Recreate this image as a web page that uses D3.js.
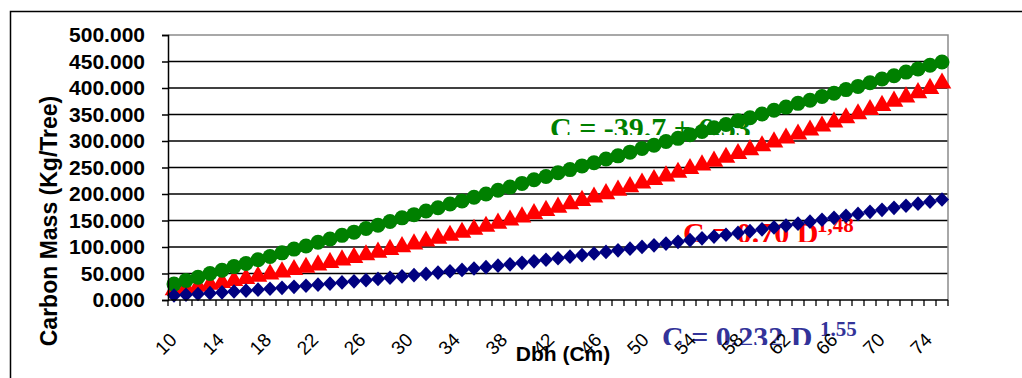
<!DOCTYPE html>
<html>
<head>
<meta charset="utf-8">
<script src="https://cdn.jsdelivr.net/npm/d3@7"></script>
<style>
  body { margin: 0; background: #fff; }
  svg { display: block; }
</style>
</head>
<body>
<div id="chart"></div>
<script>
// data
var dbh = d3.range(10, 75); // categories 10..74
var green = [30,37,43,50,56,63,69,76,82,89,
    96,102,109,115,122,128,135,141,148,155,
    161,168,174,181,187,194,200,207,213,220,
    227,233,240,246,253,259,266,272,279,286,
    292,299,305,312,318,325,331,338,344,351,
    358,364,371,377,384,390,397,403,410,417,
    423,430,436,443,449];
var red = [21.1,24.3,27.7,31.2,34.8,38.5,42.4,46.4,50.5,54.7,
    59.0,63.4,67.9,72.5,77.2,82.0,86.9,91.9,97.0,102.2,
    107.5,112.8,118.3,123.8,129.3,135.0,140.7,146.6,152.5,158.4,
    164.5,170.6,176.8,183.1,189.4,195.9,202.3,208.9,215.5,222.2,
    229.0,235.8,242.6,249.6,256.6,263.6,270.8,278.0,285.2,292.5,
    299.8,307.2,314.7,322.3,329.9,337.5,345.3,353.0,360.9,368.8,
    376.7,384.7,392.7,400.8,411.0];
var blue = [8.5,9.9,11.3,12.8,14.3,16.0,17.6,19.4,21.2,23.0,
    24.9,26.9,28.9,31.0,33.1,35.2,37.5,39.7,42.0,44.4,
    46.8,49.2,51.7,54.2,56.8,59.4,62.0,64.7,67.4,70.2,
    73.0,75.9,78.8,81.7,84.7,87.7,90.7,93.8,96.9,100.1,
    103.2,106.4,109.7,113.0,116.3,119.7,123.1,126.5,129.9,133.4,
    136.9,140.5,144.1,147.7,151.4,155.0,158.8,162.5,166.3,170.1,
    173.9,177.8,181.7,185.6,189.6];
var yTicks = [0, 50, 100, 150, 200, 250, 300, 350, 400, 450, 500];
var xLabels = [10, 14, 18, 22, 26, 30, 34, 38, 42, 46, 50, 54, 58, 62, 66, 70, 74];

var W = 1022, H = 378;
var plot = { left: 168, right: 948, top: 35, bottom: 300 };

var svg = d3.select("#chart").append("svg")
    .attr("width", W)
    .attr("height", H);

// outer frame (runs off the right and bottom edge)
svg.append("rect")
    .attr("x", 10.5).attr("y", 11.5)
    .attr("width", 1100).attr("height", 500)
    .attr("fill", "none")
    .attr("stroke", "#000")
    .attr("stroke-width", 1.5);

var x = d3.scaleBand().domain(dbh).range([plot.left, plot.right]).padding(0);
var y = d3.scaleLinear().domain([0, 500]).range([plot.bottom, plot.top]);
var cx = function(d) { return x(d) + x.bandwidth() / 2; };

// gridlines
svg.append("g")
    .selectAll("line")
    .data(yTicks.filter(function(d) { return d > 0 && d < 500; }))
    .enter().append("line")
    .attr("x1", plot.left).attr("x2", plot.right)
    .attr("y1", function(d) { return y(d); })
    .attr("y2", function(d) { return y(d); })
    .attr("stroke", "#000")
    .attr("stroke-width", 1.4);

// plot area border top/right
svg.append("path")
    .attr("d", "M" + plot.left + "," + y(500) + "H" + plot.right + "V" + plot.bottom)
    .attr("fill", "none")
    .attr("stroke", "#8c8c8c")
    .attr("stroke-width", 1.5);

// equation labels (clipped text boxes)
var defs = svg.append("defs");
function equation(id, txt, sup, x0, base, clipY, supX, supBase, color) {
    defs.append("clipPath").attr("id", id)
        .append("rect").attr("x", 0).attr("y", 0).attr("width", W).attr("height", clipY);
    var g = svg.append("g");
    g.append("text")
        .attr("clip-path", "url(#" + id + ")")
        .attr("x", x0).attr("y", base)
        .attr("fill", color)
        .style("font", "bold 30px 'Liberation Serif', 'Times New Roman', serif")
        .text(txt);
    if (sup) {
        g.append("text")
            .attr("x", supX).attr("y", supBase)
            .attr("fill", color)
            .style("font", "bold 21px 'Liberation Serif', 'Times New Roman', serif")
            .text(sup);
    }
}
equation("clipG", "C = -39.7 + 6.53", null, 550, 138, 135, 0, 0, "#008000");
equation("clipR", "C = 0.70 D", "1,48", 683, 243, 242, 817, 232, "#ff0000");
equation("clipB", "C = 0.232 D", "1.55", 662, 347, 345, 820, 336, "#333399");

// series
var tri = d3.symbol().type(d3.symbolTriangle).size(150);
svg.append("g").selectAll("path")
    .data(dbh)
    .enter().append("path")
    .attr("d", tri)
    .attr("transform", function(d, i) { return "translate(" + cx(d) + "," + (y(red[i]) + 1) + ")"; })
    .attr("fill", "#ff0000");

svg.append("g").selectAll("circle")
    .data(dbh)
    .enter().append("circle")
    .attr("cx", cx)
    .attr("cy", function(d, i) { return y(green[i]); })
    .attr("r", 7.5)
    .attr("fill", "#008000");

// diamond about as wide as tall
var wideDiamond = {
    draw: function(ctx, size) {
        var r = Math.sqrt(size) / 2;
        ctx.moveTo(0, -r * 1.05);
        ctx.lineTo(r, 0);
        ctx.lineTo(0, r * 1.05);
        ctx.lineTo(-r, 0);
        ctx.closePath();
    }
};
var dia = d3.symbol().type(wideDiamond).size(196);
svg.append("g").selectAll("path")
    .data(dbh)
    .enter().append("path")
    .attr("d", dia)
    .attr("transform", function(d, i) { return "translate(" + cx(d) + "," + y(blue[i]) + ")"; })
    .attr("fill", "#000080");

// y axis
var yAxis = svg.append("g")
    .attr("transform", "translate(" + plot.left + ",0)")
    .call(d3.axisLeft(y).tickValues(yTicks).tickSize(6).tickPadding(17).tickFormat(d3.format(".3f")));
yAxis.select(".domain").attr("stroke", "#000").attr("stroke-width", 1.5);
yAxis.selectAll(".tick line").attr("stroke", "#000").attr("stroke-width", 1.5);
yAxis.selectAll(".tick text")
    .attr("fill", "#000")
    .style("font", "bold 21px 'Liberation Sans', Arial, sans-serif");

// x axis line and boundary ticks
svg.append("line")
    .attr("x1", plot.left).attr("x2", plot.right)
    .attr("y1", plot.bottom).attr("y2", plot.bottom)
    .attr("stroke", "#000").attr("stroke-width", 1.5);
svg.append("g").selectAll("line")
    .data(dbh.concat([null]))
    .enter().append("line")
    .attr("x1", function(d) { return d === null ? plot.right : x(d); })
    .attr("x2", function(d) { return d === null ? plot.right : x(d); })
    .attr("y1", plot.bottom).attr("y2", plot.bottom + 6)
    .attr("stroke", "#000").attr("stroke-width", 1.3);

// rotated category labels, every 4th
svg.append("g").selectAll("text")
    .data(xLabels)
    .enter().append("text")
    .attr("transform", function(d) {
        return "translate(" + (cx(d) + 4 - (d - 10) * 0.2) + ",341) rotate(-45)";
    })
    .attr("text-anchor", "end")
    .style("font", "19px 'Liberation Sans', Arial, sans-serif")
    .text(function(d) { return d; });

// axis titles
svg.append("text")
    .attr("transform", "translate(57,221) rotate(-90)")
    .attr("text-anchor", "middle")
    .style("font", "bold 23px 'Liberation Sans', Arial, sans-serif")
    .text("Carbon Mass (Kg/Tree)");

svg.append("text")
    .attr("x", 563).attr("y", 361)
    .attr("text-anchor", "middle")
    .style("font", "bold 21px 'Liberation Sans', Arial, sans-serif")
    .text("Dbh (Cm)");
</script>
</body>
</html>
